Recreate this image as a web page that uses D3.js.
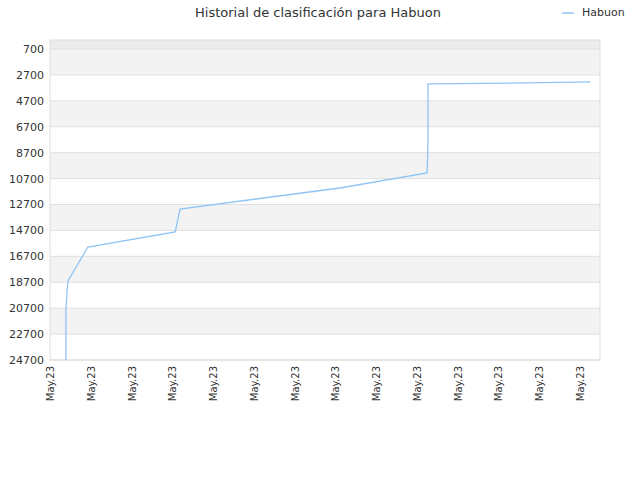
<!DOCTYPE html><html><head><meta charset="utf-8"><script src="https://cdn.jsdelivr.net/npm/d3@7"></script>
<style>body{margin:0;font-family:"DejaVu Sans",sans-serif}</style></head><body><svg width="640" height="480"></svg><script>
const xLabels=Array(14).fill("May.23");
const yTicks=[700,2700,4700,6700,8700,10700,12700,14700,16700,18700,20700,22700,24700];
const pos=[0.39,0.39,0.41,0.42,0.44,0.93,3.07,3.19,7.11,9.25,9.27,9.27,11.72,13.25];
const rank=[24700,20844,19900,19300,18605,15980,14822,13047,11426,10268,8000,3397,3320,3242];
const svg=d3.select("svg"),L=50,R=600,T=40,B=360;
const x=d3.scaleLinear().domain([0,13.49]).range([L,R]);
const y=d3.scaleLinear().domain([6,24700]).range([T,B]);
svg.append("rect").attr("x",L).attr("y",T).attr("width",R-L).attr("height",y(700)-T).attr("fill","#ececec");
yTicks.slice(0,-1).forEach((t,i)=>{if(i%2==0)svg.append("rect").attr("x",L).attr("y",y(t)).attr("width",R-L).attr("height",y(t+2000)-y(t)).attr("fill","#f3f3f3");});
yTicks.forEach(t=>svg.append("line").attr("x1",L).attr("x2",R).attr("y1",y(t)).attr("y2",y(t)).attr("stroke","#e0e0e0"));
svg.append("rect").attr("x",L).attr("y",T).attr("width",R-L).attr("height",B-T).attr("fill","none").attr("stroke","#ddd");
yTicks.forEach(t=>svg.append("text").attr("x",L-6).attr("y",y(t)+4).attr("text-anchor","end").attr("font-size",11).attr("fill","#333").text(t));
xLabels.forEach((l,i)=>svg.append("text").attr("transform",`translate(${x(i)+4},${B+6}) rotate(-90)`).attr("text-anchor","end").attr("font-size",10).attr("fill","#333").text(l));
svg.append("path").datum(pos.map((p,i)=>[p,rank[i]])).attr("d",d3.line().x(d=>x(d[0])).y(d=>y(d[1]))).attr("fill","none").attr("stroke","#90c4f4").attr("stroke-width",1.3);
svg.append("text").attr("x",318).attr("y",17).attr("text-anchor","middle").attr("font-size",13).attr("fill","#333").text("Historial de clasificación para Habuon");
svg.append("line").attr("x1",562).attr("x2",574).attr("y1",13).attr("y2",13).attr("stroke","#90c4f4").attr("stroke-width",1.5);
svg.append("text").attr("x",582).attr("y",16).attr("font-size",11).attr("fill","#333").text("Habuon");
</script></body></html>
